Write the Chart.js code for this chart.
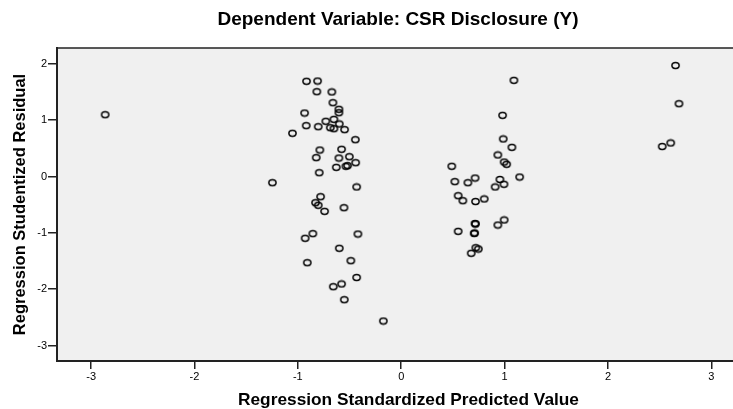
<!DOCTYPE html>
<html>
<head>
<meta charset="utf-8">
<title>Residual scatter</title>
<script src="https://cdn.jsdelivr.net/npm/chart.js@4/dist/chart.umd.min.js"></script>
<style>
  html, body { margin: 0; padding: 0; background: #fff; overflow: hidden; }
  #wrap { width: 765px; height: 409px; position: relative; }
</style>
</head>
<body>
<div id="wrap"><canvas id="chart"></canvas></div>
<script>
/* ─── Data ─── */
var predicted = [
  -0.916, -0.809, -0.816, -0.671, -0.661, -0.603, -0.603, -0.935, -0.729, -0.651,
  -0.599, -0.919, -0.803, -0.686, -0.651, -0.548, -1.052, -0.444, -0.787, -0.577,
  -0.822, -0.603, -0.502, -0.441, -0.628, -0.535, -0.519, -0.793, -1.246, -0.431,
  -0.780, -0.829, -0.803, -0.741, -0.554, -0.855, -0.929, -0.419, -0.599, -0.487,
  -0.909, -0.431, -0.577, -0.657, -0.551, -0.173, -2.864,
  0.489, 0.519, 0.645, 0.715, 0.551, 0.596, 0.719, 0.803, 0.551, 0.715,
  0.718, 0.706, 0.710, 0.722, 0.746, 0.677, 0.935, 0.996, 0.955, 0.909,
  0.994, 1.146, 1.090, 0.981, 0.987, 1.071, 0.935, 0.996, 1.020,
  2.654, 2.687, 2.607, 2.525
];
var residual = [
  1.690, 1.695, 1.505, 1.500, 1.310, 1.193, 1.132, 1.127, 0.980, 1.015,
  0.932, 0.902, 0.884, 0.866, 0.848, 0.831, 0.767, 0.653, 0.470, 0.483,
  0.334, 0.328, 0.351, 0.245, 0.163, 0.181, 0.192, 0.067, -0.110, -0.186,
  -0.359, -0.465, -0.511, -0.618, -0.554, -1.015, -1.097, -1.021, -1.274, -1.495,
  -1.530, -1.793, -1.908, -1.956, -2.187, -2.565, 1.097,
  0.181, -0.092, -0.110, -0.027, -0.341, -0.430, -0.444, -0.399, -0.973, -0.834,
  -0.845, -1.012, -1.002, -1.264, -1.287, -1.363, -0.861, -0.772, -0.053, -0.186,
  -0.138, -0.009, 1.707, 1.086, 0.666, 0.518, 0.382, 0.257, 0.217,
  1.970, 1.292, 0.595, 0.532
];
var xTicks = [-3, -2, -1, 0, 1, 2, 3];
var yTicks = [-3, -2, -1, 0, 1, 2];
var chartTitle = "Dependent Variable: CSR Disclosure (Y)";

(function () {
  "use strict";

  var FONT = "'Liberation Sans', Arial, sans-serif";
  var points = predicted.map(function (x, i) { return { x: x, y: residual[i] }; });

  /* Open elliptic marker, like the SPSS "o" */
  function makeMarker() {
    var c = document.createElement("canvas");
    c.width = 11; c.height = 9;
    var g = c.getContext("2d");
    g.strokeStyle = "#000";
    g.lineWidth = 1.5;
    g.beginPath();
    g.ellipse(5.5, 4.5, 3.6, 2.9, 0, 0, Math.PI * 2);
    g.stroke();
    return c;
  }

  /* Grey plot panel, top frame line and the chart title */
  var panel = {
    id: "panel",
    beforeDraw: function (chart) {
      var a = chart.chartArea, ctx = chart.ctx;
      ctx.save();
      ctx.fillStyle = "#f0f0f0";
      ctx.fillRect(a.left, a.top, a.right - a.left, a.bottom - a.top);
      ctx.strokeStyle = "#222";
      ctx.lineWidth = 1.5;
      ctx.beginPath();
      ctx.moveTo(a.left, a.top);
      ctx.lineTo(a.right, a.top);
      ctx.stroke();
      ctx.restore();
    },
    afterDraw: function (chart) {
      var ctx = chart.ctx;
      ctx.save();
      ctx.fillStyle = "#000";
      ctx.font = "bold 19px " + FONT;
      ctx.textAlign = "center";
      ctx.textBaseline = "middle";
      ctx.fillText(chartTitle, 398, 20);
      ctx.restore();
    }
  };

  var tickFont = { family: FONT, size: 11 };

  new Chart(document.getElementById("chart"), {
    type: "scatter",
    data: {
      datasets: [{
        data: points,
        pointStyle: makeMarker(),
        pointRadius: 4,
        pointHoverRadius: 4
      }]
    },
    options: {
      responsive: true,
      maintainAspectRatio: false,
      animation: false,
      layout: { padding: { left: 0, right: 0, top: 48, bottom: 0 } },
      plugins: {
        legend: { display: false },
        tooltip: { enabled: false },
        title: { display: false }
      },
      scales: {
        x: {
          type: "linear",
          min: -3.33,
          max: 3.471,
          afterFit: function (s) { s.height = 48; },
          afterBuildTicks: function (s) { s.ticks = xTicks.map(function (v) { return { value: v }; }); },
          ticks: { color: "#000", font: tickFont, padding: 1 },
          grid: { drawOnChartArea: false, drawTicks: true, tickLength: 8, color: "#222", lineWidth: 1.5 },
          border: { display: true, color: "#222", width: 2 },
          title: {
            display: true,
            text: "Regression Standardized Predicted Value",
            color: "#000",
            font: { family: FONT, size: 17.3, weight: "bold", lineHeight: 1 },
            padding: { top: 0, bottom: 0 }
          }
        },
        y: {
          type: "linear",
          min: -3.275,
          max: 2.281,
          afterFit: function (s) { s.width = 57; },
          afterBuildTicks: function (s) { s.ticks = yTicks.map(function (v) { return { value: v }; }); },
          ticks: { color: "#000", font: tickFont, padding: 1 },
          grid: { drawOnChartArea: false, drawTicks: true, tickLength: 9, color: "#222", lineWidth: 1.5 },
          border: { display: true, color: "#222", width: 2 },
          title: {
            display: true,
            text: "Regression Studentized Residual",
            color: "#000",
            font: { family: FONT, size: 16.5, weight: "bold", lineHeight: 1 },
            padding: { top: 12, bottom: 0 }
          }
        }
      }
    },
    plugins: [panel]
  });
})();
</script>
</body>
</html>
